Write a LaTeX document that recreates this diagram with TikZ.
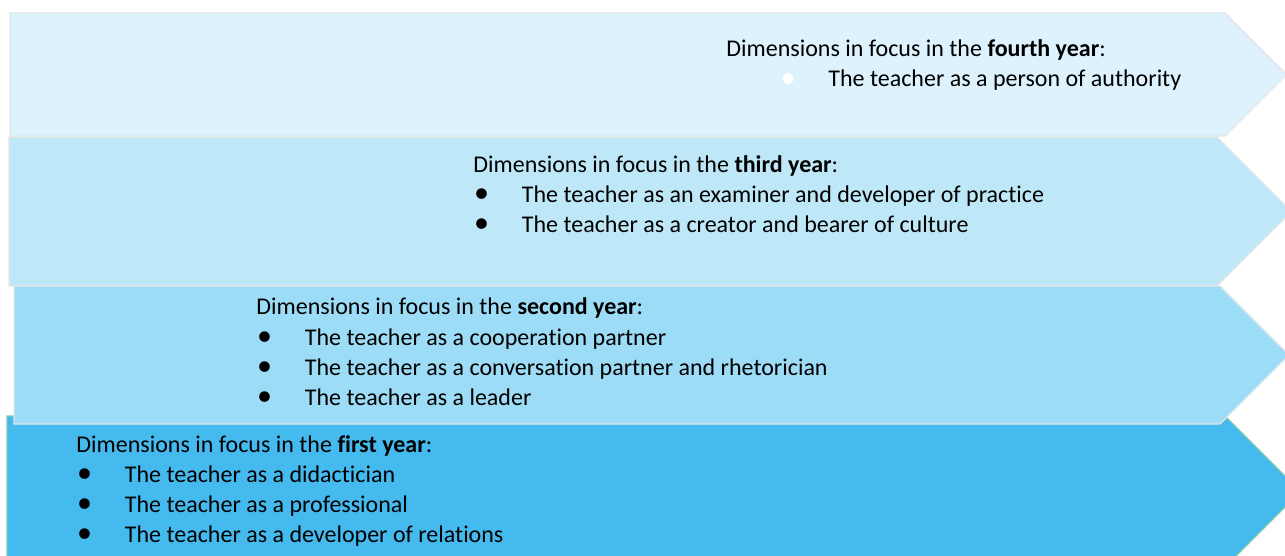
\documentclass[tikz,border=0pt]{standalone}
\usepackage{fontspec}
\usepackage{graphicx}
\setmainfont{Carlito}[Ligatures=NoCommon]
\usetikzlibrary{positioning}
\definecolor{YearOne}{HTML}{45BAEE}
\definecolor{YearTwo}{HTML}{9DDCF6}
\definecolor{YearThree}{HTML}{BEE8F8}
\definecolor{YearFour}{HTML}{DDF2FC}
\definecolor{EdgeGray}{HTML}{E3E6E8}
\definecolor{EdgeTeal}{HTML}{7FC8B0}
\newcommand{\dotmark}{\raisebox{-.3pt}{\scalebox{1.25}{\textbullet}}}
\newcommand{\bul}[1]{\makebox[24.25pt][l]{\hspace{0.3pt}\dotmark}#1}
\begin{document}
\begin{tikzpicture}[x=.5pt,y=-.5pt]
      \tikzstyle{band}=[line width=.6pt]
      \tikzstyle{txt}=[anchor=base west,inner sep=0pt,font=\fontsize{12}{15}\selectfont]
      \useasboundingbox (0,0) rectangle (1285,556);
      \clip (0,0) rectangle (1285,556);
      % bands, first year at the bottom
      \foreach \yt/\yb/\xl/\xc/\fc/\dc in {416/567/7/1225/YearOne/EdgeTeal,286/424/14/1220/YearTwo/EdgeGray,137/286/9/1217/YearThree/EdgeGray,13/136/10/1225/YearFour/EdgeGray}
        \draw[band,fill=\fc,draw=\dc] (\xl,\yt) -- (\xc,\yt) -- ({\xc+(\yb-\yt)/2},{(\yt+\yb)/2}) -- (\xc,\yb) -- (\xl,\yb) -- cycle;
      % first year
      \node[txt] (hFirst) at (76,452) {Dimensions in focus in the \textbf{first year}:};
      \foreach \t [count=\i] in {The teacher as a didactician,The teacher as a professional,The teacher as a developer of relations}
        \node[txt] (iFirst\i) at (76,{452+30*\i}) {\bul{\t}};
      % second year
      \node[txt] (hSecond) at (256,314) {Dimensions in focus in the \textbf{second year}:};
      \foreach \t [count=\i] in {The teacher as a cooperation partner,The teacher as a conversation partner and rhetorician,The teacher as a leader}
        \node[txt] (iSecond\i) at (256,{315+30*\i}) {\bul{\t}};
      % third year
      \node[txt] (hThird) at (473,172) {Dimensions in focus in the \textbf{third year}:};
      \foreach \t [count=\i] in {The teacher as an examiner and developer of practice,The teacher as a creator and bearer of culture}
        \node[txt] (iThird\i) at (473,{172+30*\i}) {\bul{\t}};
      % fourth year
      \node[txt] (hFourth) at (726,57) {Dimensions in focus in the \textbf{fourth year}:};
      \node[txt] (iFourth) at (726,87) {\makebox[51pt][l]{\hspace{27.2pt}\textcolor{white}{\dotmark}}The teacher as a person of authority};
    \end{tikzpicture}
\end{document}
